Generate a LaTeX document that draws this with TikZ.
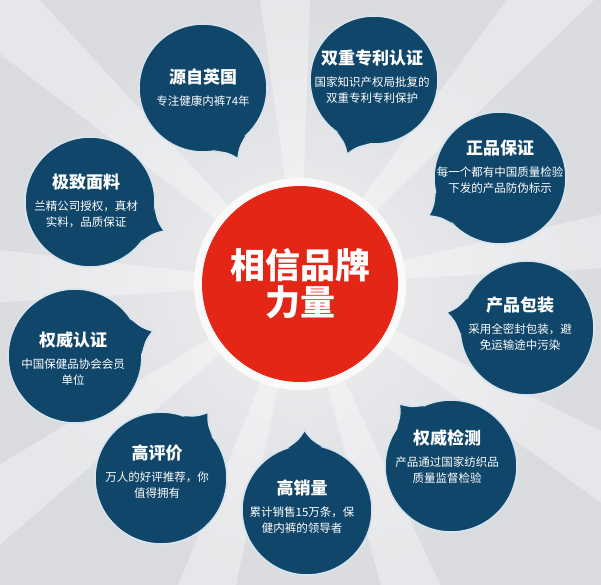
\documentclass[tikz,border=0pt]{standalone}
\usepackage{fontspec}
\newfontfamily\cjk{Noto Sans CJK SC}
\usetikzlibrary{calc, positioning}
\definecolor{navy}{RGB}{16,70,106}
\definecolor{ringblue}{RGB}{214,228,238}
\definecolor{brandred}{RGB}{228,38,22}
\definecolor{bginner}{RGB}{240,240,242}
\definecolor{bgouter}{RGB}{218,219,223}
\tikzset{
  bubble/.style={circle, fill=navy, draw=ringblue, line width=1.6pt, outer sep=0pt, inner sep=0pt},
  head/.style={font=\cjk\bfseries\fontsize{17}{20}\selectfont, text=white, inner sep=0pt},
  note/.style={font=\cjk\fontsize{11.5}{16}\selectfont, text=white, align=center, inner sep=0pt},
  ray/.style={fill=white, opacity=0.35}}

\begin{document}
\begin{tikzpicture}[x=1pt, y=-1pt]
\useasboundingbox (0,0) rectangle (601,584);
\shade[inner color=bginner, outer color=bgouter] (0,0) rectangle (601,584);
\coordinate (o) at (300,284);
% light rays between the bubbles
\foreach \a in {178.5, 216, 253, 290, 329, 8, 49, 93, 137.5}
  \fill[ray] (o) -- +(-\a-5:520) -- +(-\a+5:520) -- cycle;
\node[circle, fill=white!96!gray, minimum size=212pt] (ring) at (o) {};
\node[circle, fill=brandred, minimum size=196pt, text=white, align=center,
  font=\cjk\bfseries\fontsize{35}{37}\selectfont] (brand) at (o) {相信品牌\\力量};
% name/x/y/radius/text x/title y/title/text
\foreach \n/\x/\y/\r/\tx/\ty/\t/\s in {
  yuan/203/88/64/203/77/源自英国/专注健康内裤74年,
  patent/374/80/64/372/58/双重专利认证/国家知识产权局批复的\\双重专利专利保护,
  genuine/500/178/66/500/148/正品保证/每一个都有中国质量检验\\下发的产品防伪标示,
  fabric/90/202/65/86/182/极致面料/兰精公司授权，真材\\实料，品质保证,
  pack/527/328/67/520/305/产品包装/采用全密封包装，避\\免运输途中污染,
  auth/75/356/67/73/340/权威认证/中国保健品协会会员\\单位,
  test/451/466/66/447/438/权威检测/产品通过国家纺织品\\质量监督检验,
  praise/161/478/66/157/453/高评价/万人的好评推荐，你\\值得拥有,
  sales/307/510/65/302/488/高销量/累计销售15万条，保\\健内裤的领导者}
{
  \pgfmathsetmacro\tipd{\r+15}
  \pgfmathsetmacro\bend{\r+6}
  \node[bubble, minimum size={2*\r*1pt}] (\n) at (\x,\y) {};
  \coordinate (\n tip) at ($(\n)!\tipd pt!(o)$);
  \coordinate (\n ca) at ($(\n)!\bend pt!5:(o)$);
  \coordinate (\n cb) at ($(\n)!\bend pt!-5:(o)$);
  \coordinate (\n a) at ($(\n)!\r pt!17:(o)$);
  \coordinate (\n b) at ($(\n)!\r pt!-17:(o)$);
  \fill[navy] (\n a) .. controls (\n ca) .. (\n tip) .. controls (\n cb) .. (\n b) -- (\n) -- cycle;
  \draw[ringblue, line width=1.6pt] (\n a) .. controls (\n ca) .. (\n tip) .. controls (\n cb) .. (\n b);
  \node[head] (\n head) at (\tx,\ty) {\t};
  \node[note, below=10pt of \n head] (\n body) {\s};
}
\end{tikzpicture}
\end{document}
